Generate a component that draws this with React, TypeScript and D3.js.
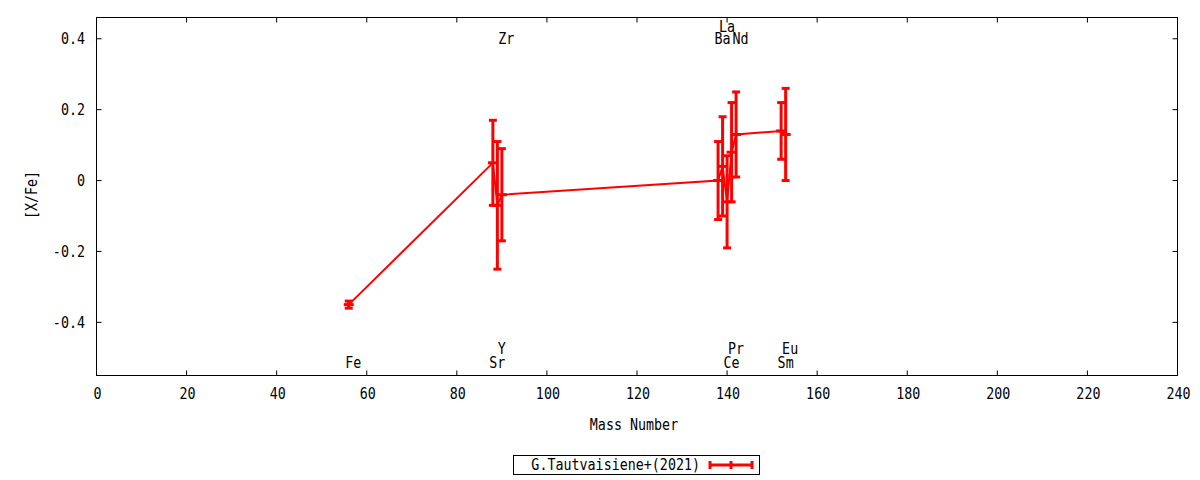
import React from "react";
import * as d3 from "d3";

const elements = ["Fe", "Sr", "Y", "Zr", "Ba", "La", "Ce", "Pr", "Nd", "Sm", "Eu"];
const massNumbers = [56, 88, 89, 90, 138, 139, 140, 141, 142, 152, 153];
const values = [-0.35, 0.05, -0.07, -0.04, 0.0, 0.04, -0.06, 0.08, 0.13, 0.14, 0.13];
const errors = [0.01, 0.12, 0.18, 0.13, 0.11, 0.14, 0.13, 0.14, 0.12, 0.08, 0.13];
const labelRows = ["bot", "bot", "bot2", "top", "top", "top2", "bot", "bot2", "top", "bot", "bot2"];
const xTicks = [0, 20, 40, 60, 80, 100, 120, 140, 160, 180, 200, 220, 240];
const yTicks = [-0.4, -0.2, 0, 0.2, 0.4];
const yTickLabels = ["-0.4", "-0.2", "0", "0.2", "0.4"];
const seriesName = "G.Tautvaisiene+(2021)";
const xTitle = "Mass Number";
const yTitle = "[X/Fe]";

const W = 1200;
const H = 480;
const L = 96.5, R = 1177.5, T = 17.5, B = 375.5;
const RED = "#ff0000";
const FONT = "'DejaVu Sans Mono', monospace";
const FS = 15;
const SX = 0.89;

const rowY: Record<string, number> = { top: 0.4, top2: 0.433, bot: -0.515, bot2: -0.475 };

function Txt({ x, y, anchor = "middle", rotate = 0, children }: any) {
  return (
    <text
      transform={`translate(${x},${y}) rotate(${rotate}) scale(${SX},1)`}
      textAnchor={anchor}
      dominantBaseline="central"
      fontFamily={FONT}
      fontSize={FS}
      fill="#000"
    >
      {children}
    </text>
  );
}

export default function App() {
  const x = d3.scaleLinear().domain([0, 240]).range([L, R]);
  const y = d3.scaleLinear().domain([-0.55, 0.46]).range([B, T]);
  const idx = d3.range(elements.length);
  const line = d3
    .line<number>()
    .x((i) => x(massNumbers[i]))
    .y((i) => y(values[i]));
  const tick = 5;
  const cap = 4;
  const plus = 5;

  return (
    <svg width={W} height={H} style={{ position: "absolute", left: 0, top: 0, background: "#fff" }}>
      <rect x={0} y={0} width={W} height={H} fill="#fff" />
      {/* ticks */}
      {xTicks.map((t) => (
        <g key={"xt" + t}>
          <line x1={x(t)} x2={x(t)} y1={B} y2={B - tick} stroke="#000" strokeWidth={1} />
          <line x1={x(t)} x2={x(t)} y1={T} y2={T + tick} stroke="#000" strokeWidth={1} />
          <Txt x={x(t) + 1} y={394}>{String(t)}</Txt>
        </g>
      ))}
      {yTicks.map((t, i) => (
        <g key={"yt" + t}>
          <line x1={L} x2={L + tick} y1={y(t)} y2={y(t)} stroke="#000" strokeWidth={1} />
          <line x1={R} x2={R - tick} y1={y(t)} y2={y(t)} stroke="#000" strokeWidth={1} />
          <Txt x={85} y={y(t)} anchor="end">{yTickLabels[i]}</Txt>
        </g>
      ))}
      <rect x={L} y={T} width={R - L} height={B - T} fill="none" stroke="#000" strokeWidth={1} />

      {/* element labels */}
      {idx.map((i) => (
        <Txt key={"lab" + i} x={x(massNumbers[i] + 1)} y={y(rowY[labelRows[i]])}>
          {elements[i]}
        </Txt>
      ))}

      {/* series line */}
      <path d={line(idx) || ""} fill="none" stroke={RED} strokeWidth={2} />
      {/* error bars */}
      {idx.map((i) => {
        const cx = x(massNumbers[i]);
        const y1 = y(values[i] + errors[i]);
        const y0 = y(values[i] - errors[i]);
        const cy = y(values[i]);
        return (
          <g key={"eb" + i} stroke={RED} strokeWidth={3}>
            <line x1={cx} x2={cx} y1={y1} y2={y0} />
            <line x1={cx - cap} x2={cx + cap} y1={y1} y2={y1} />
            <line x1={cx - cap} x2={cx + cap} y1={y0} y2={y0} />
            <line x1={cx - plus} x2={cx + plus} y1={cy} y2={cy} />
          </g>
        );
      })}

      {/* axis titles */}
      <Txt x={634} y={425}>{xTitle}</Txt>
      <Txt x={32} y={195} rotate={-90}>{yTitle}</Txt>

      {/* legend */}
      <rect x={513.5} y={455.5} width={246} height={19} fill="none" stroke="#000" strokeWidth={1} />
      <Txt x={700} y={465} anchor="end">{seriesName}</Txt>
      <g stroke={RED} strokeWidth={3}>
        <line x1={710} x2={752} y1={465} y2={465} />
        <line x1={710} x2={710} y1={461} y2={469} />
        <line x1={752} x2={752} y1={461} y2={469} />
        <line x1={731} x2={731} y1={461} y2={469} />
      </g>
    </svg>
  );
}
